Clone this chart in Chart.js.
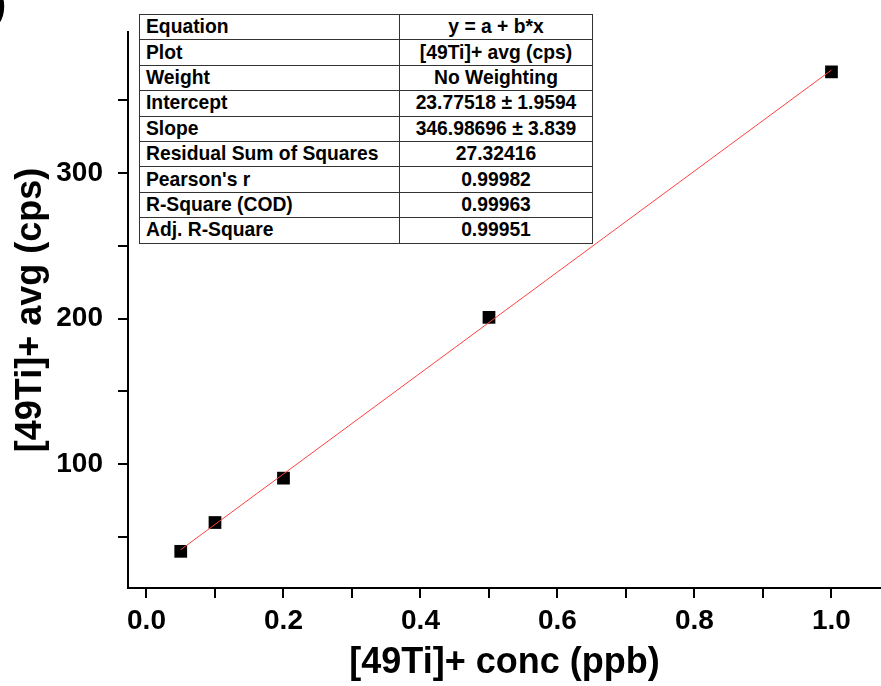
<!DOCTYPE html>
<html>
<head>
<meta charset="utf-8">
<script src="https://cdn.jsdelivr.net/npm/chart.js@4.4.0/dist/chart.umd.min.js"></script>
<style>
  html, body { margin: 0; padding: 0; background: #fff; overflow: hidden; }
  #wrap { position: relative; width: 881px; height: 686px; overflow: hidden; }
  #c { position: absolute; left: 0; top: 0; }
  #paren { position: absolute; left: -6px; top: -17px; font: bold 36px "Liberation Sans", Arial, sans-serif; color: #000; }
  #stats { position: absolute; left: 139px; top: 14px; border-collapse: collapse; table-layout: fixed;
           font: bold 19.3px "Liberation Sans", Arial, sans-serif; color: #000; background: #fff; }
  #stats td { border: 1.5px solid #333; height: 24.4px; padding: 0 6px; line-height: 20px; white-space: nowrap; }
  #stats td.v { text-align: center; }
</style>
</head>
<body>
<div id="wrap">
  <canvas id="c" width="881" height="686"></canvas>
  <div id="paren">)</div>
  <table id="stats"><colgroup><col style="width:260px"><col style="width:193px"></colgroup><tbody id="tb"></tbody></table>
</div>
<script>
// ---- data ----
const concPPB = [0.05, 0.1, 0.2, 0.5, 1.0];
const avgCPS  = [40.0, 59.8, 90.3, 200.8, 369.5];

// linear fit parameters (from the stats table)
const intercept = 23.77518;
const slope = 346.98696;
const fitRangeX = [0.05, 1.0];

// stats table
const statLabels = ["Equation", "Plot", "Weight", "Intercept", "Slope",
  "Residual Sum of Squares", "Pearson's r", "R-Square (COD)", "Adj. R-Square"];
const statValues = ["y = a + b*x", "[49Ti]+ avg (cps)", "No Weighting",
  "23.77518 \u00B1 1.9594", "346.98696 \u00B1 3.839", "27.32416", "0.99982", "0.99963", "0.99951"];

// axis ticks
const xTicks = [0, 0.1, 0.2, 0.3, 0.4, 0.5, 0.6, 0.7, 0.8, 0.9, 1.0];
const xTickLabels = ["0.0", "", "0.2", "", "0.4", "", "0.6", "", "0.8", "", "1.0"];
const yTicks = [50, 100, 150, 200, 250, 300, 350];
const yTickLabels = ["", "100", "", "200", "", "300", ""];

const xTitle = "[49Ti]+ conc (ppb)";
const yTitle = "[49Ti]+ avg (cps)";

// ---- build table ----
const tb = document.getElementById('tb');
statLabels.forEach((lab, i) => {
  const tr = document.createElement('tr');
  const a = document.createElement('td'); a.textContent = lab;
  const b = document.createElement('td'); b.className = 'v'; b.textContent = statValues[i];
  tr.appendChild(a); tr.appendChild(b); tb.appendChild(tr);
});

// ---- chart ----
const FONT = '"Liberation Sans", Arial, sans-serif';
const points = concPPB.map((x, i) => ({x, y: avgCPS[i]}));
const fitPts = fitRangeX.map(x => ({x, y: intercept + slope * x}));

new Chart(document.getElementById('c'), {
  type: 'scatter',
  data: {
    datasets: [
      { label: 'fit', data: fitPts, showLine: true, borderColor: '#ff4040', borderWidth: 1,
        pointRadius: 0, pointHoverRadius: 0, fill: false },
      { label: 'data', data: points, pointStyle: 'rect', pointRadius: 9, pointHoverRadius: 9,
        backgroundColor: '#000', borderColor: '#000', borderWidth: 0 }
    ]
  },
  options: {
    responsive: false,
    animation: false,
    events: [],
    layout: { autoPadding: false, padding: { top: 32, right: 0, bottom: 0, left: 0 } },
    plugins: { legend: { display: false }, tooltip: { enabled: false } },
    scales: {
      x: {
        type: 'linear', min: -0.027, max: 1.0723,
        afterFit: s => { s.height = 98; s.paddingLeft = 0; s.paddingRight = 0; },
        afterBuildTicks: s => { s.ticks = xTicks.map(v => ({value: v})); },
        border: { display: true, color: '#000', width: 2 },
        grid: { display: true, drawOnChartArea: false, drawTicks: true, tickLength: 10, color: '#000', lineWidth: 2 },
        ticks: {
          autoSkip: false, maxRotation: 0, padding: 6, color: '#000',
          font: { family: FONT, size: 28, weight: 'bold' },
          callback: (v, i) => xTickLabels[i]
        },
        title: { display: true, text: xTitle, color: '#000', padding: { top: 0, bottom: 1.5 },
                 font: { family: FONT, size: 36, weight: 'bold' } }
      },
      y: {
        type: 'linear', min: 14.8, max: 396.9,
        afterFit: s => { s.width = 128; s.paddingTop = 0; s.paddingBottom = 0; },
        afterBuildTicks: s => { s.ticks = yTicks.map(v => ({value: v})); },
        border: { display: true, color: '#000', width: 2 },
        grid: { display: true, drawOnChartArea: false, drawTicks: true, tickLength: 10, color: '#000', lineWidth: 2 },
        ticks: {
          autoSkip: false, padding: 15, color: '#000',
          font: { family: FONT, size: 28, weight: 'bold' },
          callback: (v, i) => yTickLabels[i]
        },
        title: { display: true, text: yTitle, color: '#000', padding: { top: 9.5, bottom: 0 },
                 font: { family: FONT, size: 36, weight: 'bold' } }
      }
    }
  }
});
</script>
</body>
</html>
